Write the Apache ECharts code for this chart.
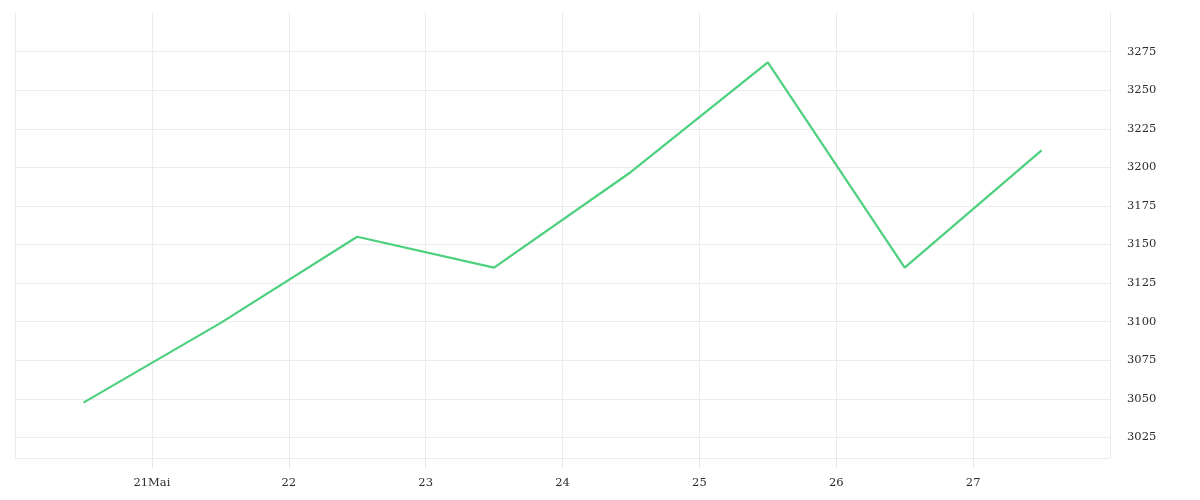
<!DOCTYPE html>
<html>
<head>
<meta charset="utf-8">
<script src="https://cdn.jsdelivr.net/npm/echarts@6/dist/echarts.min.js"></script>
<style>html,body{margin:0;padding:0;background:#fff;}#c{width:1200px;height:500px;}</style>
</head>
<body>
<div id="c"></div>
<script>
// Data (timestamps at noon UTC each day)
const dates = ['2024-05-20T12:00:00Z','2024-05-21T12:00:00Z','2024-05-22T12:00:00Z','2024-05-23T12:00:00Z','2024-05-24T12:00:00Z','2024-05-25T12:00:00Z','2024-05-26T12:00:00Z','2024-05-27T12:00:00Z'];
const values = [3047.5, 3099, 3155, 3135, 3197, 3268, 3135, 3211];
const yTicks = [3025, 3050, 3075, 3100, 3125, 3150, 3175, 3200, 3225, 3250, 3275];
const monthNames = ['Jan','Feb','Mär','Apr','Mai','Jun','Jul','Aug','Sep','Okt','Nov','Dez'];
const xStart = '2024-05-20T00:00:00Z';
const xEnd = '2024-05-28T00:00:00Z';
const yMin = 3011.4, yMax = 3300.7;

const DAY = 86400000;
const xMin = Date.parse(xStart), xMax = Date.parse(xEnd);
const seriesData = dates.map((d, i) => [Date.parse(d), values[i]]);
const firstLabel = xMin + DAY;

const gridColor = '#ececec';
const textStyle = { color: '#2b2b2b', fontFamily: 'DejaVu Serif', fontSize: 11.5 };

const chart = echarts.init(document.getElementById('c'), null, { renderer: 'canvas' });
chart.setOption({
  animation: false,
  backgroundColor: '#fff',
  grid: { left: 15, right: 90, top: 12, bottom: 41.7, containLabel: false },
  xAxis: {
    type: 'value',
    position: 'bottom',
    min: xMin,
    max: xMax,
    interval: DAY,
    axisLine: { show: true, onZero: false, lineStyle: { color: gridColor, width: 1 } },
    axisTick: { show: true, inside: false, length: 10, lineStyle: { color: '#e6e6e6', width: 1 } },
    splitLine: { show: true, lineStyle: { color: gridColor, width: 1 } },
    axisLabel: Object.assign({
      margin: 19,
      showMinLabel: false,
      showMaxLabel: false,
      formatter: function (v) {
        const d = new Date(v);
        const day = d.getUTCDate();
        if (v === firstLabel) return day + monthNames[d.getUTCMonth()];
        return String(day);
      }
    }, textStyle)
  },
  yAxis: {
    type: 'value',
    position: 'right',
    min: yMin,
    max: yMax,
    axisLine: { show: true, lineStyle: { color: gridColor, width: 1 } },
    axisTick: { show: false, customValues: yTicks },
    splitLine: { show: true, lineStyle: { color: gridColor, width: 1 } },
    axisLabel: Object.assign({ margin: 17, customValues: yTicks, formatter: function (v) { return String(v); } }, textStyle)
  },
  series: [{
    type: 'line',
    data: seriesData,
    symbol: 'none',
    lineStyle: { color: '#4cd07d', width: 2.2 },
    itemStyle: { color: '#4cd07d' }
  }]
});
</script>
</body>
</html>
